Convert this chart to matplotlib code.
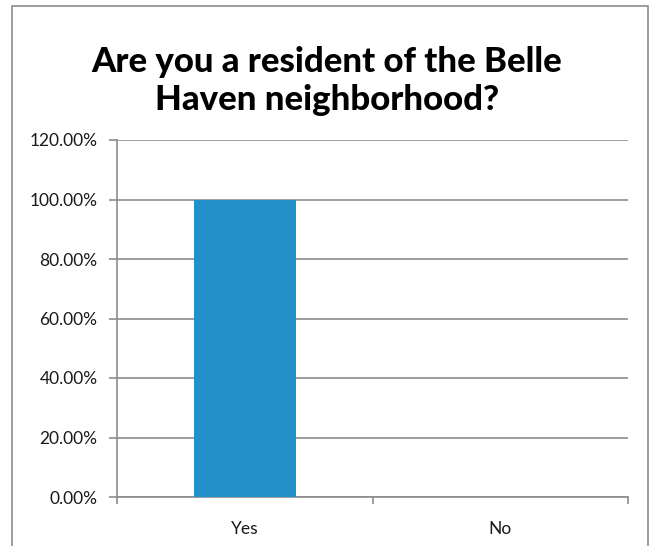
import matplotlib.pyplot as plt
from matplotlib.patches import Rectangle
from matplotlib.ticker import FuncFormatter

# survey answers
categories = ["Yes", "No"]
shares = [100.0, 0.0]
y_ticks = [0, 20, 40, 60, 80, 100, 120]

fig = plt.figure(figsize=(6.55, 5.46), dpi=100)
W, H = 655, 546
ax = fig.add_axes([117 / W, 1 - 497 / H, (628 - 117) / W, (497 - 140) / H])

# outer chart border (runs off the bottom of the picture)
fig.patches.append(Rectangle((12 / W, -0.1), (648 - 12) / W, 1.1 - 6 / H,
                             transform=fig.transFigure, fill=False,
                             edgecolor="#8c8c8c", linewidth=1.2))

x = range(len(categories))
ax.bar(x, shares, width=0.4, color="#2490c9", zorder=3)

ax.set_xlim(-0.5, 1.5)
ax.set_ylim(0, 120)
ax.set_yticks(y_ticks)
ax.yaxis.set_major_formatter(FuncFormatter(lambda v, p: f"{v:.2f}%"))
ax.grid(axis="y", color="#8c8c8c", linewidth=1.2, zorder=0)

ax.set_xticks([0, 1])
ax.set_xticklabels(categories)
ax.set_xticks([-0.5, 0.5, 1.5], minor=True)
ax.tick_params(axis="x", which="major", length=0, pad=17)
ax.tick_params(axis="x", which="minor", length=5, width=1.2, color="#8c8c8c")
ax.tick_params(axis="y", length=6, width=1.2, color="#8c8c8c", pad=8)
for lab in ax.get_xticklabels() + ax.get_yticklabels():
    lab.set_fontfamily("Lato")
    lab.set_fontsize(12.5)
    lab.set_color("#1a1a1a")

for side in ["top", "right"]:
    ax.spines[side].set_visible(False)
for side in ["left", "bottom"]:
    ax.spines[side].set_color("#8c8c8c")
    ax.spines[side].set_linewidth(1.2)

fig.text(327 / W, 1 - 81 / H, "Are you a resident of the Belle\nHaven neighborhood?",
         ha="center", va="center", fontsize=25, fontweight=900,
         family="Lato", linespacing=1.2)

fig.savefig("out.png", dpi=100)
